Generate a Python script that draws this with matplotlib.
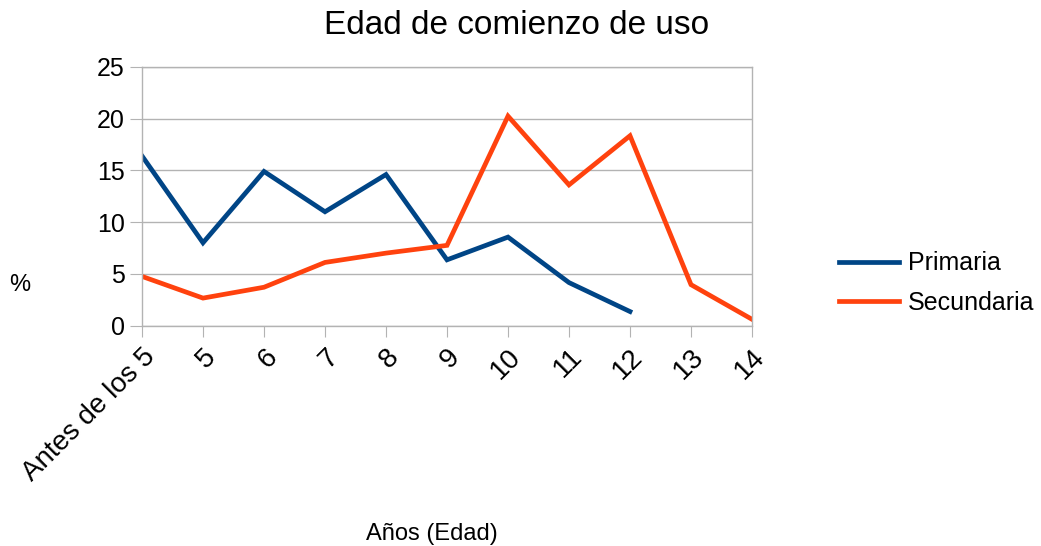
import matplotlib
matplotlib.use("Agg")
import matplotlib.pyplot as plt
import numpy as np

plt.rcParams['font.family'] = ['Liberation Sans', 'DejaVu Sans']

categories = ["Antes de los 5", "5", "6", "7", "8", "9", "10", "11", "12", "13", "14"]
primaria = [16.4, 8.0, 14.9, 11.0, 14.6, 6.35, 8.55, 4.15, 1.35, np.nan, np.nan]
secundaria = [4.75, 2.65, 3.7, 6.1, 7.0, 7.75, 20.25, 13.6, 18.35, 3.95, 0.6]

fig = plt.figure(figsize=(10.41, 5.46), dpi=100)
ax = fig.add_axes([142/1041, 1-325.5/546, (752-142)/1041, (325.5-67)/546])

x = np.arange(len(categories))
ax.plot(x, primaria, color='#004586', lw=3.4, label='Primaria', solid_joinstyle='miter')
ax.plot(x, secundaria, color='#ff420e', lw=3.4, label='Secundaria', solid_joinstyle='miter')

ax.set_xlim(0, len(categories)-1)
ax.set_ylim(0, 25)
ax.set_yticks([0, 5, 10, 15, 20, 25])
ax.set_xticks(x)
ax.set_xticklabels(categories, rotation=45, ha='right', rotation_mode='anchor', fontsize=20)
ax.tick_params(axis='y', labelsize=18, length=8.5, color='#b3b3b3', pad=4)
ax.tick_params(axis='x', length=8, color='#b3b3b3', pad=5)
ax.grid(axis='y', color='#b3b3b3', lw=1)
ax.set_axisbelow(True)
for s in ax.spines.values():
    s.set_color('#b3b3b3')
    s.set_linewidth(1)

fig.text(20/1041, 1-285/546, '%', fontsize=17, ha='center', va='center')
fig.text(432/1041, 1-534/546, 'Años (Edad)', fontsize=17, ha='center', va='center')
fig.text(517/1041, 1-25/546, 'Edad de comienzo de uso', fontsize=24, ha='center', va='center')

ax.legend(loc='center left', bbox_to_anchor=(839/1041, 1-283/546), bbox_transform=fig.transFigure,
          frameon=False, fontsize=18, handlelength=2.4, labelspacing=0.6, handletextpad=0.36,
          borderpad=0, borderaxespad=0)

fig.savefig('out.png', dpi=100)
